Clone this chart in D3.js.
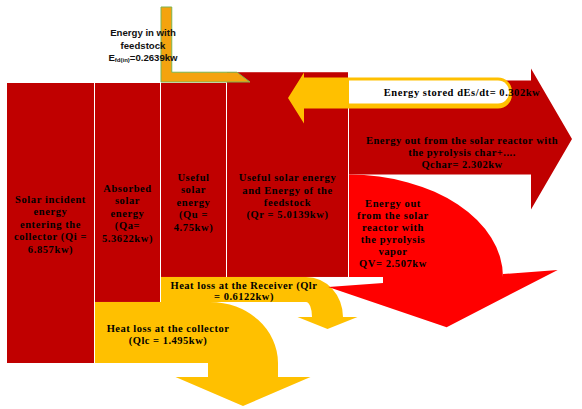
<!DOCTYPE html>
<html>
<head>
<meta charset="utf-8">
<script src="https://cdn.jsdelivr.net/npm/d3@7"></script>
<style>
  body { margin: 0; background: #fff; }
  .lbl { font-family: "Liberation Serif", "Times New Roman", serif; font-weight: bold; font-size: 10.5px; fill: #000; }
  .feed { font-family: "Liberation Sans", Arial, sans-serif; font-weight: bold; font-size: 9.6px; fill: #111; }
</style>
</head>
<body>
<div id="chart"></div>
<script>
// ---- data (kW) ----
var stageValues = [6.857, 5.3622, 4.75, 5.0139];   // Qi, Qa, Qu, Qr
var stageLabels = [
  ["Solar incident", "energy", "entering the", "collector (Qi =", "6.857kw)"],
  ["Absorbed", "solar", "energy", "(Qa=", "5.3622kw)"],
  ["Useful", "solar", "energy", "(Qu =", "4.75kw)"],
  ["Useful solar energy", "and Energy of the", "feedstock", "(Qr = 5.0139kw)"]
];
var lossValues = [1.495, 0.6122];                    // Qlc, Qlr
var lossLabels = [
  ["Heat loss at the collector", "(Qlc = 1.495kw)"],
  ["Heat loss at the Receiver (Qlr", "= 0.6122kw)"]
];
var outValues = [2.302, 2.507];                      // Qchar, QV
var outLabels = [
  ["Energy out from the solar reactor with", "the pyrolysis char+....", "Qchar= 2.302kw"],
  ["Energy out", "from the solar", "reactor with", "the pyrolysis", "vapor", "QV= 2.507kw"]
];
var storedValue = 0.302;
var storedLabel = "Energy stored dEs/dt= " + storedValue + "kw";
var feedValue = 0.2639;
var feedLabel = ["Energy in with", "feedstock"];

// ---- layout ----
var width = 582, height = 409;
var top0 = 83;
var cols = [7, 95, 161, 227, 349];
var labelOffset = [120, 109, 98, 109];
var darkRed = "#C00000", red = "#FF0000", yellow = "#FFC000";

var svg = d3.select("#chart").append("svg")
  .attr("width", width)
  .attr("height", height);

// kW -> pixel thickness
var y = d3.scaleLinear()
  .domain([0, d3.max(stageValues)])
  .range([0, 280]);

// stage blocks
var blocks = stageValues.map(function(v, i) {
  var t = top0;
  if (i == 3) t = top0 + y(stageValues[2]) - y(v);
  return {x: cols[i], w: cols[i + 1] - cols[i] - 1, top: t, h: y(v), lines: stageLabels[i]};
});

function bentArrow(o) {
  var a = o.angle * Math.PI / 180;
  var outerX = o.ox + o.orx, innerX = o.ix;
  var hcx = (outerX + innerX) / 2;
  var baseY = function(x) { return o.headY + (x - hcx) * Math.tan(a); };
  var ux = Math.cos(a), uy = Math.sin(a);
  var right = [hcx + o.hw * ux, o.headY + o.hw * uy];
  var left = [hcx - o.hw * ux, o.headY - o.hw * uy];
  var tip = [hcx - o.hl * uy, o.headY + o.hl * ux];
  return "M" + o.x0 + "," + o.yt + " H" + o.ox +
    " A" + o.orx + "," + o.ory + " 0 0 1 " + outerX + "," + (o.yt + o.ory) +
    " L" + outerX + "," + baseY(outerX) +
    " L" + right + " L" + tip + " L" + left +
    " L" + innerX + "," + baseY(innerX) +
    " L" + innerX + "," + (o.yb + o.iry) +
    " A" + o.irx + "," + o.iry + " 0 0 0 " + (innerX - o.irx) + "," + o.yb +
    " H" + o.x0 + " Z";
}

svg.selectAll(".block").data(blocks).enter()
  .append("rect")
  .attr("class", "block")
  .attr("x", function(d) { return d.x; })
  .attr("y", function(d) { return d.top; })
  .attr("width", function(d) { return d.w; })
  .attr("height", function(d) { return d.h; })
  .attr("fill", darkRed);

// outputs: vapor sits on the bottom of block 4, char above it
var b4 = blocks[3];
var vapB = b4.top + b4.h, vapT = vapB - y(outValues[1]);
var charB = vapT, charT = charB - y(outValues[0]);

var headX = 531, tipX = 572;
var charHeadT = charT - 12, charHeadB = charB + 35;
svg.append("path")
  .attr("d", "M" + cols[4] + "," + charT + " H" + headX + " V" + charHeadT +
    " L" + tipX + "," + ((charHeadT + charHeadB) / 2) + " L" + headX + "," + charHeadB +
    " V" + charB + " H" + cols[4] + " Z")
  .attr("fill", darkRed);

// energy stored: returns to the left over block 4
var sT = charT - 3, sB = charT + 28, sL = 304, sR = 512, sTip = 288;
svg.append("path")
  .attr("d", "M" + sL + "," + sT + " H" + (sR - 14) + " A14,14 0 0 1 " + sR + "," + (sT + 14) +
    " V" + (sB - 14) + " A14,14 0 0 1 " + (sR - 14) + "," + sB + " H" + sL +
    " V" + (sB + 15) + " L" + sTip + "," + ((sT + sB) / 2 + 5) + " L" + sL + "," + (sT - 5) + " Z")
  .attr("fill", yellow);
svg.append("path")
  .attr("d", "M" + cols[4] + "," + (sT + 3) + " H" + (sR - 14) + " A11,11 0 0 1 " + (sR - 3) + "," + (sT + 14) +
    " V" + (sB - 16) + " A11,11 0 0 1 " + (sR - 14) + "," + (sB - 5) + " H" + cols[4] + " Z")
  .attr("fill", "#fff");

// feedstock input
var fT = b4.top, fB = top0, fX = cols[2];
svg.append("path")
  .attr("d", "M" + fX + ",7 H" + (fX + (fB - fT)) + " V" + fT + " H237 L250," + (fB - 1) +
    " H" + fX + " Z")
  .attr("fill", "#F4A30F")
  .attr("stroke", "#7CB450")
  .attr("stroke-width", 1);

// heat losses
var lcT = top0 + y(stageValues[1]), lcB = lcT + y(lossValues[0]);
svg.append("path")
  .attr("d", bentArrow({x0: cols[1], yt: lcT, yb: lcB, ox: cols[1] + 115, orx: 68, ory: lcB - lcT,
    ix: cols[1] + 113, irx: 0, iry: 0, headY: lcB + 14, hw: 67.5, hl: 29, angle: 0}))
  .attr("fill", yellow);

var lrT = top0 + y(stageValues[2]), lrB = lrT + y(lossValues[1]);
svg.append("path")
  .attr("d", bentArrow({x0: cols[2], yt: lrT, yb: lrB, ox: cols[2] + 145, orx: 37, ory: lrB - lrT + 15,
    ix: cols[2] + 151, irx: 6, iry: 15, headY: lrB + 15, hw: 30, hl: 12, angle: 0}))
  .attr("fill", yellow);

svg.append("path")
  .attr("d", bentArrow({x0: cols[4], yt: vapT, yb: vapB, ox: cols[4], orx: 154, ory: vapB - vapT,
    ix: cols[4] + 34, irx: 0, iry: 0, headY: vapB + 1.5, hw: 115, hl: 49, angle: -4.25}))
  .attr("fill", red);

// ---- text ----
function addLines(lines, cx, y0, dy, cls, ls) {
  var t = svg.append("text")
    .attr("class", cls)
    .attr("text-anchor", "middle")
    .style("letter-spacing", ls + "px");
  t.selectAll("tspan").data(lines).enter()
    .append("tspan")
    .attr("x", cx)
    .attr("y", function(d, i) { return y0 + i * dy; })
    .text(function(d) { return d; });
}

blocks.forEach(function(b, i) {
  addLines(b.lines, b.x + b.w / 2, b.top + labelOffset[i], 12.4, "lbl", 0.6);
});
addLines(lossLabels[0], 168, lcT + 30, 12, "lbl", 0.5);
addLines(lossLabels[1], 244, lrT + 12, 11.5, "lbl", 0.5);
addLines(outLabels[0], 462, charT + 63, 12, "lbl", 0.5);
addLines(outLabels[1], 393, vapT + 32, 12, "lbl", 0.6);
addLines([storedLabel], 462, sT + 18, 12, "lbl", 0.55);

addLines(feedLabel, 143, 36, 12.5, "feed", 0);
var ef = svg.append("text")
  .attr("class", "feed")
  .attr("x", 143)
  .attr("y", 61)
  .attr("text-anchor", "middle");
ef.append("tspan").text("E");
ef.append("tspan").attr("font-size", "6px").attr("dy", 1).text("fd(in)");
ef.append("tspan").attr("dy", -1).text("=" + feedValue + "kw");
</script>
</body>
</html>
